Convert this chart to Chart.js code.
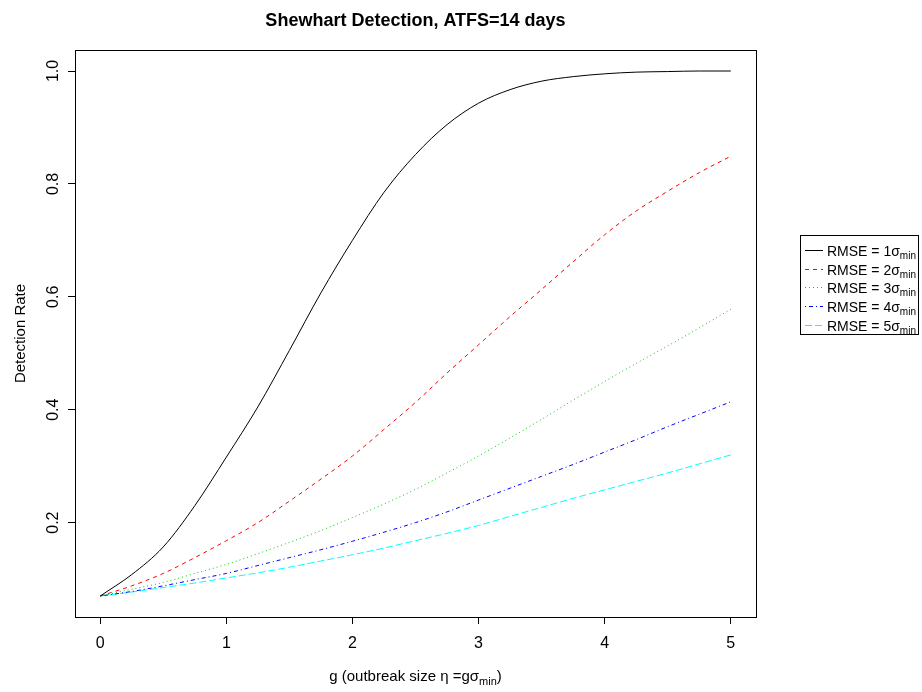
<!DOCTYPE html>
<html>
<head>
<meta charset="utf-8">
<script src="https://cdn.jsdelivr.net/npm/chart.js@4.4.1/dist/chart.umd.min.js"></script>
<style>
  html, body { margin: 0; background: #fff; }
</style>
</head>
<body>
<canvas id="lineChart" width="922" height="692"></canvas>
<script>
// outbreak size g (x axis)
const gValues = [0, 0.25, 0.5, 0.75, 1, 1.25, 1.5, 1.75, 2, 2.25, 2.5, 2.75, 3, 3.25, 3.5, 3.75, 4, 4.25, 4.5, 4.75, 5];

// detection rate per RMSE level
const rmse1 = [0.07, 0.108, 0.157, 0.23, 0.316, 0.405, 0.505, 0.607, 0.70, 0.785, 0.852, 0.905, 0.943, 0.967, 0.982, 0.99, 0.995, 0.998, 0.999, 1.0, 1.0];
const rmse2 = [0.07, 0.088, 0.11, 0.138, 0.168, 0.2, 0.238, 0.277, 0.318, 0.365, 0.413, 0.465, 0.515, 0.565, 0.613, 0.662, 0.71, 0.752, 0.787, 0.82, 0.849];
const rmse3 = [0.07, 0.082, 0.094, 0.11, 0.126, 0.145, 0.165, 0.186, 0.209, 0.233, 0.259, 0.288, 0.318, 0.35, 0.383, 0.417, 0.45, 0.482, 0.513, 0.545, 0.578];
const rmse4 = [0.07, 0.078, 0.088, 0.099, 0.11, 0.124, 0.138, 0.152, 0.167, 0.183, 0.2, 0.219, 0.24, 0.261, 0.282, 0.303, 0.325, 0.347, 0.37, 0.392, 0.414];
const rmse5 = [0.07, 0.077, 0.085, 0.093, 0.102, 0.111, 0.121, 0.132, 0.143, 0.155, 0.168, 0.181, 0.195, 0.211, 0.227, 0.243, 0.258, 0.273, 0.288, 0.304, 0.32];

const rmseLevels = ['1', '2', '3', '4', '5'];
const xTicks = [0, 1, 2, 3, 4, 5];
const yTicks = [0.2, 0.4, 0.6, 0.8, 1.0];

const FONT = '"Liberation Sans", Arial, sans-serif';
const series = [rmse1, rmse2, rmse3, rmse4, rmse5];
const colors = ['#000000', '#FF0000', '#00CD00', '#0000FF', '#00FFFF'];
const dashes = [[], [4, 4], [1, 3], [1, 3, 4, 3], [7, 3]];

const datasets = series.map((vals, i) => ({
  label: 'RMSE = ' + rmseLevels[i],
  data: gValues.map((g, j) => ({ x: g, y: vals[j] })),
  borderColor: colors[i],
  borderDash: dashes[i],
  borderWidth: 1,
  pointRadius: 0,
  fill: false,
  cubicInterpolationMode: 'monotone'
}));

// box, title, x label with subscript, legend (R style)
const rFrame = {
  id: 'rFrame',
  afterDraw(chart) {
    const ctx = chart.ctx;
    const a = chart.chartArea;
    ctx.save();
    ctx.strokeStyle = '#000';
    ctx.lineWidth = 1;
    ctx.setLineDash([]);
    ctx.strokeRect(Math.round(a.left) + 0.5, Math.round(a.top) + 0.5,
      Math.round(a.right - a.left), Math.round(a.bottom - a.top));

    const cx = (a.left + a.right) / 2;
    ctx.fillStyle = '#000';
    ctx.font = 'bold 18px ' + FONT;
    ctx.textAlign = 'center';
    ctx.textBaseline = 'alphabetic';
    ctx.fillText('Shewhart Detection, ATFS=14 days', cx, 26);

    // x axis label
    const main = 'g (outbreak size \u03B7 =g\u03C3';
    ctx.font = '15px ' + FONT;
    const w1 = ctx.measureText(main).width;
    const w3 = ctx.measureText(')').width;
    ctx.font = '11px ' + FONT;
    const w2 = ctx.measureText('min').width;
    let x = cx - (w1 + w2 + w3) / 2;
    const by = 681;
    ctx.textAlign = 'left';
    ctx.font = '15px ' + FONT;
    ctx.fillText(main, x, by);
    x += w1;
    ctx.font = '11px ' + FONT;
    ctx.fillText('min', x, by + 4);
    x += w2;
    ctx.font = '15px ' + FONT;
    ctx.fillText(')', x, by);

    // legend
    const lx = 800, ly = 235, lw = 118, lh = 99;
    ctx.strokeRect(lx + 0.5, ly + 0.5, lw, lh);
    chart.data.datasets.forEach((ds, i) => {
      const ry = Math.round(250 + i * 18.7) + 0.5;
      ctx.strokeStyle = colors[i];
      ctx.setLineDash(dashes[i]);
      ctx.beginPath();
      ctx.moveTo(805, ry);
      ctx.lineTo(823, ry);
      ctx.stroke();
      ctx.setLineDash([]);
      ctx.fillStyle = '#000';
      ctx.font = '14px ' + FONT;
      const t = ds.label + '\u03C3';
      ctx.fillText(t, 827, ry + 5);
      const tw = ctx.measureText(t).width;
      ctx.font = '10px ' + FONT;
      ctx.fillText('min', 827 + tw, ry + 8);
    });
    ctx.restore();
  }
};

const config = {
  type: 'line',
  data: { datasets: datasets },
  options: {
    responsive: false,
    animation: false,
    devicePixelRatio: 1,
    layout: { padding: { top: 50, right: 166, left: 0, bottom: 0 } },
    plugins: {
      legend: { display: false },
      title: { display: false },
      tooltip: { enabled: false }
    },
    scales: {
      x: {
        type: 'linear',
        min: -0.2,
        max: 5.2,
        afterBuildTicks: s => { s.ticks = xTicks.map(v => ({ value: v })); },
        afterFit: s => { s.height = 75; },
        grid: { drawOnChartArea: false, drawTicks: true, tickLength: 7, color: '#000' },
        border: { display: false },
        ticks: {
          color: '#000',
          font: { family: FONT, size: 16 },
          padding: 10,
          maxRotation: 0,
          autoSkip: false,
          callback: v => String(v)
        }
      },
      y: {
        type: 'linear',
        min: 0.0328,
        max: 1.0372,
        afterBuildTicks: s => { s.ticks = yTicks.map(v => ({ value: v })); },
        afterFit: s => { s.width = 75; },
        grid: { drawOnChartArea: false, drawTicks: true, tickLength: 7, color: '#000' },
        border: { display: false },
        ticks: {
          color: '#000',
          font: { family: FONT, size: 16 },
          padding: 3,
          minRotation: 90,
          maxRotation: 90,
          crossAlign: 'center',
          autoSkip: false,
          callback: v => v.toFixed(1)
        },
        title: {
          display: true,
          text: 'Detection Rate',
          color: '#000',
          font: { family: FONT, size: 15 },
          padding: { top: 12, bottom: 0 }
        }
      }
    }
  },
  plugins: [rFrame]
};

const chart = new Chart(document.getElementById('lineChart'), config);
</script>
</body>
</html>
